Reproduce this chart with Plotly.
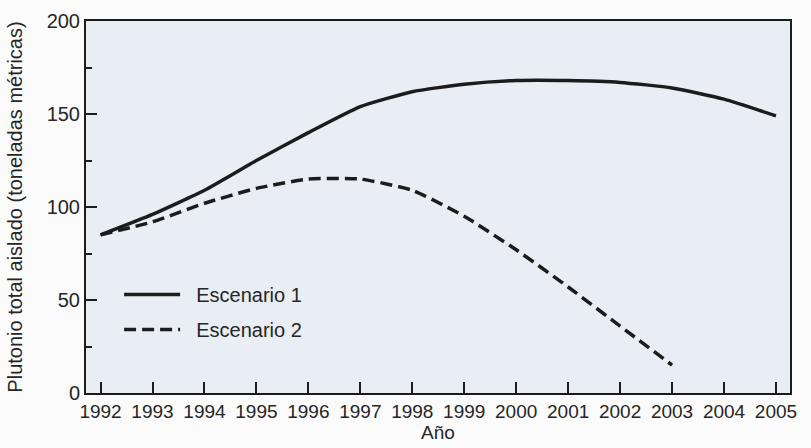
import plotly.graph_objects as go

years = list(range(1992, 2006))
escenario1 = [85, 96, 109, 125, 140, 154, 162, 166, 168, 168, 167, 164, 158, 149]
years2 = list(range(1992, 2004))
escenario2 = [85, 92, 102, 110, 115, 115, 109, 95, 77, 57, 36, 15]

FONT = "Liberation Sans, Arial, sans-serif"
INK = "#1c1c1c"
TXT = "#262626"
PAD = "\u00a0\u00a0"

fig = go.Figure()
fig.add_trace(go.Scatter(x=years, y=escenario1, mode="lines", name=PAD + "Escenario 1",
                         legendgroup="a",
                         line=dict(color=INK, width=3.5, shape="spline", smoothing=0.5)))
fig.add_trace(go.Scatter(x=years2, y=escenario2, mode="lines", name=PAD + "Escenario 2",
                         legendgroup="b",
                         line=dict(color=INK, width=3.5, dash="12px,6px", shape="spline", smoothing=0.5)))

fig.update_layout(
    width=811, height=448,
    margin=dict(l=86, r=21, t=21, b=55),
    paper_bgcolor="#fbfbfc",
    plot_bgcolor="#e9eef5",
    font=dict(family=FONT, size=19, color=TXT),
    showlegend=True,
    legend=dict(x=0.047, y=0.317, xanchor="left", yanchor="top",
                bgcolor="rgba(0,0,0,0)", traceorder="grouped", tracegroupgap=6,
                itemwidth=56,
                font=dict(family=FONT, size=20, color=TXT)),
)
fig.update_xaxes(
    range=[1991.72, 2005.27], tickmode="array", tickvals=years,
    ticktext=[str(y) for y in years],
    tickfont=dict(family=FONT, size=19, color=TXT),
    ticks="inside", ticklen=11, tickwidth=2, tickcolor=INK,
    showline=True, linecolor=INK, linewidth=2, mirror=True,
    showgrid=False, zeroline=False, automargin=False,
    title=dict(text="Año", standoff=5, font=dict(family=FONT, size=19, color=TXT)),
)
fig.update_yaxes(
    range=[0, 200], tickmode="array", tickvals=[0, 50, 100, 150, 200],
    tickfont=dict(family=FONT, size=20, color=TXT),
    ticks="inside", ticklen=11, tickwidth=2, tickcolor=INK,
    minor=dict(tickvals=[25, 75, 125, 175], ticks="inside", ticklen=6, tickwidth=1.5, tickcolor=INK),
    showline=True, linecolor=INK, linewidth=2, mirror=True,
    showgrid=False, zeroline=False, automargin=False,
    title=dict(text="Plutonio total aislado (toneladas métricas)", standoff=19,
               font=dict(family=FONT, size=20, color=TXT)),
)

fig.write_html("out.html", config={"displayModeBar": False},
               post_script="document.body.style.margin='0';")
